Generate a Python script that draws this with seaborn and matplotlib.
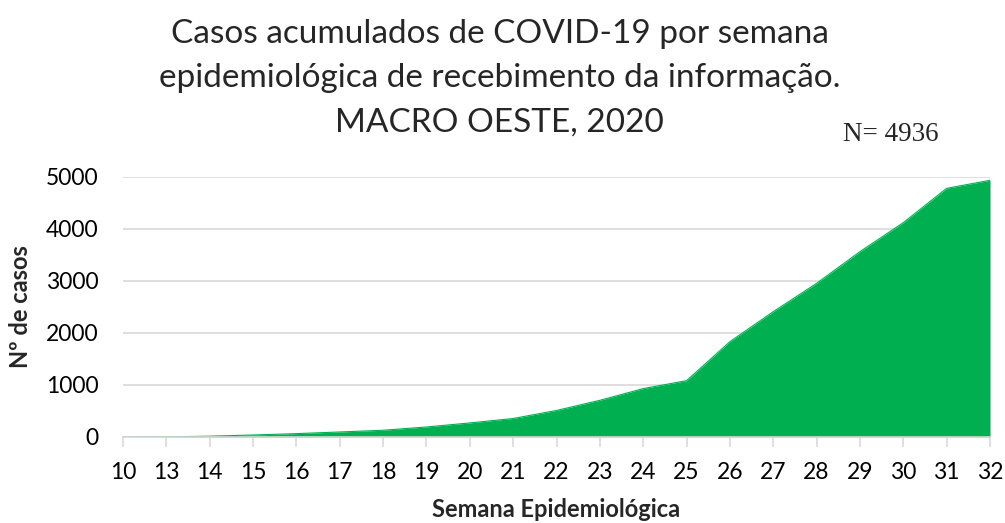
import matplotlib
matplotlib.use("Agg")
import matplotlib.pyplot as plt
import seaborn as sns
import pandas as pd

weeks = ["10", "13", "14", "15", "16", "17", "18", "19", "20", "21", "22",
         "23", "24", "25", "26", "27", "28", "29", "30", "31", "32"]
cases = [0, 3, 15, 38, 64, 96, 129, 192, 270, 355, 510,
         705, 930, 1083, 1833, 2410, 2955, 3564, 4122, 4782, 4936]
total = 4936

df = pd.DataFrame({"semana": weeks, "casos": cases})
df["pos"] = range(len(df))

sns.set_style("white")
plt.rcParams["font.family"] = ["Lato", "DejaVu Sans"]

green = "#00B050"
fig = plt.figure(figsize=(10.05, 5.23), dpi=100)
ax = fig.add_axes([0.1224, 0.1645, 0.8627, 0.4971])

sns.lineplot(data=df, x="pos", y="casos", color=green, linewidth=0.8, ax=ax)
ax.fill_between(df["pos"], df["casos"], color=green, linewidth=0)

ax.set_xlim(0, len(df) - 1)
ax.set_ylim(0, 5000)
ax.set_yticks(range(0, 5001, 1000))
ax.set_xticks(df["pos"])
ax.set_xticklabels(df["semana"])
ax.yaxis.grid(True, color="#D9D9D9", linewidth=1.2)
ax.set_axisbelow(True)
for s in ["top", "right", "left"]:
    ax.spines[s].set_visible(False)
ax.spines["bottom"].set_color("#D9D9D9")
ax.spines["bottom"].set_linewidth(1.2)
ax.tick_params(axis="x", bottom=True, length=7, width=1.2, color="#D9D9D9",
               labelsize=16.5, pad=11, labelcolor="#000000")
ax.tick_params(axis="y", left=False, labelsize=16.5, pad=14, labelcolor="#000000")

ax.set_xlabel("Semana Epidemiológica", fontsize=17, fontweight="bold", labelpad=11)
ax.set_ylabel("Nº de casos", fontsize=17, fontweight="bold", labelpad=10)

fig.text(0.497, 0.964,
         "Casos acumulados de COVID-19 por semana\n"
         "epidemiológica de recebimento da informação.\n"
         "MACRO OESTE, 2020",
         ha="center", va="top", fontsize=24, linespacing=1.6)
fig.text(0.886, 0.742, f"N= {total}", ha="center", va="center",
         fontsize=19.5, family=["Liberation Serif", "DejaVu Serif"])

fig.savefig("out.png", dpi=100)
